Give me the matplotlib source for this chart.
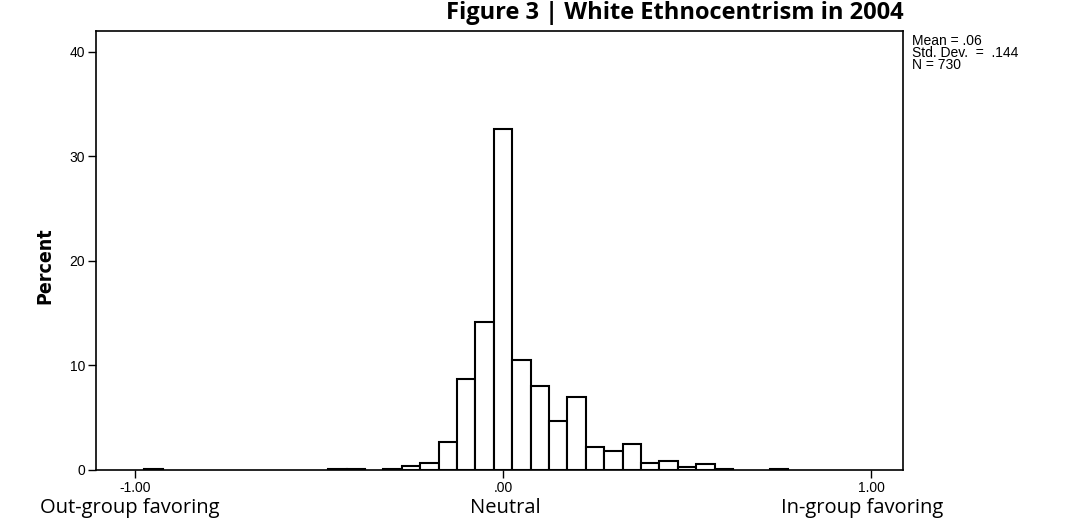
import matplotlib
matplotlib.use("Agg")
import matplotlib.pyplot as plt

# histogram bins (width .05) and percent of respondents in each
bin_centers = [-0.95, -0.45, -0.40, -0.30, -0.25, -0.20, -0.15, -0.10, -0.05, 0.00,
               0.05, 0.10, 0.15, 0.20, 0.25, 0.30, 0.35, 0.40, 0.45, 0.50,
               0.55, 0.60, 0.75]
percents = [0.14, 0.14, 0.14, 0.14, 0.41, 0.68, 2.7, 8.7, 14.2, 32.6,
            10.5, 8.0, 4.7, 7.0, 2.2, 1.85, 2.45, 0.68, 0.82, 0.27,
            0.55, 0.14, 0.14]
bin_width = 0.05

y_ticks = [0, 10, 20, 30, 40]
x_ticks = [-1.0, 0.0, 1.0]
x_ticklabels = ["-1.00", ".00", "1.00"]
stats_text = "Mean = .06\nStd. Dev.  =  .144\nN = 730"

fig = plt.figure(figsize=(10.75, 5.2), dpi=100)
ax = fig.add_axes([0.0893, 0.0962, 0.7507, 0.8442])

ax.bar(bin_centers, percents, width=bin_width, color="white",
       edgecolor="black", linewidth=1.5)

ax.set_xlim(-1.106, 1.087)
ax.set_ylim(0, 42)
ax.set_yticks(y_ticks)
ax.set_yticklabels([str(v) for v in y_ticks], fontfamily="Liberation Sans", fontsize=10)
ax.set_xticks(x_ticks)
ax.set_xticklabels(x_ticklabels, fontfamily="Liberation Sans", fontsize=10)
ax.tick_params(direction="out", length=6, width=1, color="black", pad=2)
for s in ax.spines.values():
    s.set_linewidth(1.2)

# y label, condensed bold look
fig.text(0.042, 0.49, "Percent", rotation=90, ha="center", va="center",
         fontfamily="DejaVu Sans", fontweight="bold", fontsize=14,
         fontstretch="condensed")

fig.text(0.628, 0.975, "Figure 3 | White Ethnocentrism in 2004",
         ha="center", va="center", fontfamily="Open Sans",
         fontweight="bold", fontsize=17)

fig.text(0.848, 0.935, stats_text, ha="left", va="top",
         fontfamily="Liberation Sans", fontsize=10, linespacing=0.85)

# descriptive labels under the axis ticks
fig.text(0.121, 0.024, "Out-group favoring", ha="center", va="center",
         fontfamily="Open Sans", fontsize=14.5)
fig.text(0.470, 0.024, "Neutral", ha="center", va="center",
         fontfamily="Open Sans", fontsize=14.5)
fig.text(0.802, 0.024, "In-group favoring", ha="center", va="center",
         fontfamily="Open Sans", fontsize=14.5)

fig.savefig("out.png", dpi=100)
